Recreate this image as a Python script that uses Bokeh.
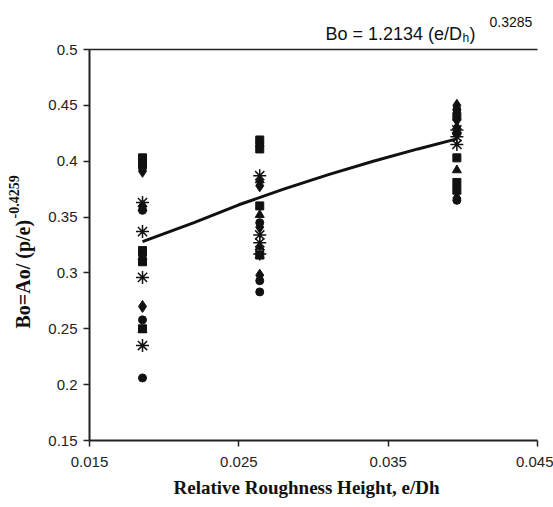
import math
from bokeh.plotting import figure
from bokeh.models import Range1d, FixedTicker
from bokeh.core.properties import value
from bokeh.embed import file_html
from bokeh.resources import INLINE

# ---- data ----
group_x = [0.01855, 0.0264, 0.0396]

diamond_x = [group_x[0]] * 3 + [group_x[1]] * 4 + [group_x[2]] * 3
diamond_y = [0.391, 0.360, 0.270, 0.417, 0.378, 0.341, 0.298, 0.450, 0.437, 0.367]

square_x = [group_x[0]] * 5 + [group_x[1]] * 4 + [group_x[2]] * 4
square_y = [0.403, 0.398, 0.320, 0.310, 0.250, 0.419, 0.411, 0.360, 0.316, 0.440, 0.403, 0.381, 0.374]

triangle_x = [group_x[0]] * 3 + [group_x[1]] * 3 + [group_x[2]] * 2
triangle_y = [0.358, 0.314, 0.249, 0.383, 0.352, 0.323, 0.431, 0.392]

circle_x = [group_x[0]] * 5 + [group_x[1]] * 4 + [group_x[2]] * 3
circle_y = [0.394, 0.356, 0.316, 0.258, 0.206, 0.414, 0.345, 0.293, 0.283, 0.446, 0.425, 0.365]

star_x = [group_x[0]] * 4 + [group_x[1]] * 4 + [group_x[2]] * 3
star_y = [0.363, 0.337, 0.296, 0.235, 0.387, 0.334, 0.327, 0.317, 0.428, 0.422, 0.415]

trend_x = [0.01855, 0.022, 0.025, 0.028, 0.031, 0.034, 0.037, 0.0396]
trend_y = [0.328, 0.345, 0.361, 0.375, 0.388, 0.400, 0.411, 0.420]

x_ticks = [0.015, 0.025, 0.035, 0.045]
x_tick_labels = ["0.015", "0.025", "0.035", "0.045"]
y_ticks = [0.15, 0.2, 0.25, 0.3, 0.35, 0.4, 0.45, 0.5]
y_tick_labels = ["0.15", "0.2", "0.25", "0.3", "0.35", "0.4", "0.45", "0.5"]

x_title = "Relative Roughness Height, e/Dh"
y_title_main = "Bo=Ao/ (p/e)"
y_title_sup = "-0.4259"
eq_main = "Bo = 1.2134 (e/D"
eq_sub = "h"
eq_close = ")"
eq_sup = "0.3285"

INK = "#111111"
AXIS = "#222222"

# ---- layout (pixels): axes box inside a canvas-wide frame ----
W, H = 553, 507
LEFT, RIGHT, TOP, BOTTOM = 89, 537, 49, 440
X0, X1 = x_ticks[0], x_ticks[-1]
Y0, Y1 = y_ticks[0], y_ticks[-1]
PX_PER_X = (RIGHT - LEFT) / (X1 - X0)
PX_PER_Y = (BOTTOM - TOP) / (Y1 - Y0)


def dx(px):
    return X0 + (px - LEFT) / PX_PER_X


def dy(py):
    return Y0 + (BOTTOM - py) / PX_PER_Y


p = figure(width=W, height=H, x_range=Range1d(dx(0), dx(W)), y_range=Range1d(dy(H), dy(0)),
           output_backend="svg", toolbar_location=None, min_border=0,
           min_border_left=0, min_border_right=0, min_border_top=0, min_border_bottom=0)
p.outline_line_color = None
p.xgrid.visible = False
p.ygrid.visible = False
p.background_fill_color = "white"
p.border_fill_color = "white"

p.xaxis[0].fixed_location = Y0
p.yaxis[0].fixed_location = X0
for ax, ticks, labels in ((p.xaxis[0], x_ticks, x_tick_labels), (p.yaxis[0], y_ticks, y_tick_labels)):
    ax.ticker = FixedTicker(ticks=ticks, minor_ticks=[])
    ax.major_label_overrides = {t: l for t, l in zip(ticks, labels)}
    ax.bounds = (ticks[0], ticks[-1])
    ax.axis_line_color = AXIS
    ax.axis_line_width = 2
    ax.major_tick_line_color = AXIS
    ax.major_tick_line_width = 1.5
    ax.major_tick_out = 6
    ax.major_tick_in = 0
    ax.minor_tick_line_color = None
    ax.major_label_text_font = "Liberation Sans"
    ax.major_label_text_font_size = "15px"
    ax.major_label_text_color = AXIS
p.yaxis[0].major_label_standoff = 6
p.xaxis[0].major_label_standoff = 10

# top border line of the plot area
p.segment(x0=[X0], y0=[Y1], x1=[X1], y1=[Y1], line_color=AXIS, line_width=1.5)

# trend line
p.line(trend_x, trend_y, line_color=INK, line_width=3)

# markers
p.scatter(diamond_x, diamond_y, marker="diamond", size=12, fill_color=INK, line_color=INK)
p.scatter(square_x, square_y, marker="square", size=8, fill_color=INK, line_color=INK)
p.scatter(triangle_x, triangle_y, marker="triangle", size=9, fill_color=INK, line_color=INK)
p.scatter(circle_x, circle_y, marker="circle", size=8, fill_color=INK, line_color=INK)
p.scatter(star_x, star_y, marker="asterisk", size=13, line_color=INK, line_width=1.5)

serif = value("Liberation Serif")
sans = value("Liberation Sans")

# x-axis title
p.text(x=[dx(306)], y=[dy(487)], text=[x_title], text_font=serif, text_font_style="bold",
       text_font_size="19px", text_color=INK, text_align="center", text_baseline="middle")

# y-axis title (rotated), main text + superscript
p.text(x=[dx(22)], y=[dy(328)], text=[y_title_main], angle=math.pi / 2, text_font=serif,
       text_font_style="bold", text_font_size="20px", text_color=INK,
       text_align="left", text_baseline="middle")
p.text(x=[dx(13)], y=[dy(218)], text=[y_title_sup], angle=math.pi / 2, text_font=serif,
       text_font_style="bold", text_font_size="14px", text_color=INK,
       text_align="left", text_baseline="middle")

# equation above the plot area
p.text(x=[dx(325)], y=[dy(33)], text=[eq_main], text_font=sans, text_font_size="18px",
       text_color=INK, text_align="left", text_baseline="alphabetic")
p.text(x=[dx(462)], y=[dy(37)], text=[eq_sub], text_font=sans, text_font_size="12px",
       text_color=INK, text_align="left", text_baseline="alphabetic")
p.text(x=[dx(469)], y=[dy(33)], text=[eq_close], text_font=sans, text_font_size="18px",
       text_color=INK, text_align="left", text_baseline="alphabetic")
p.text(x=[dx(489)], y=[dy(21)], text=[eq_sup], text_font=sans, text_font_size="14px",
       text_color=INK, text_align="left", text_baseline="alphabetic")

open("out.html", "w").write(file_html(p, INLINE))
